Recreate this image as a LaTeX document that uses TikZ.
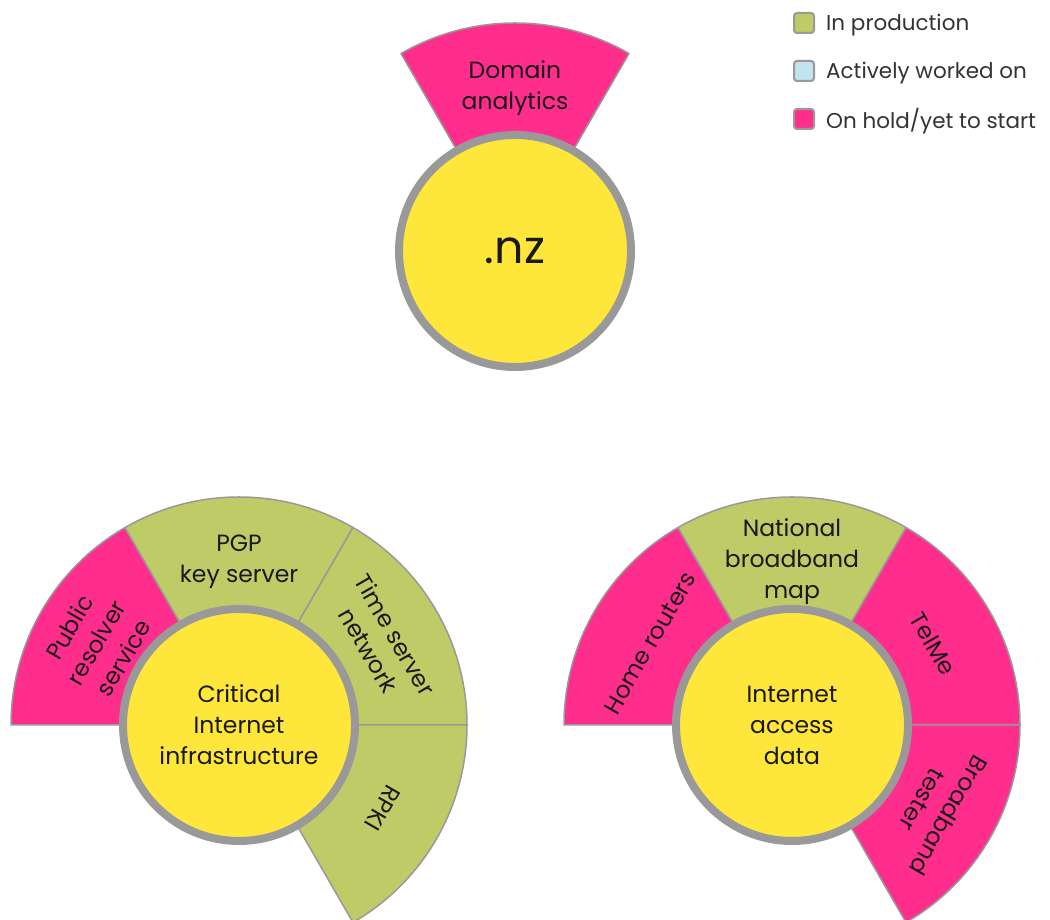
\documentclass[tikz,border=0pt]{standalone}
\usepackage{fontspec}
\setmainfont{Poppins}
\usetikzlibrary{positioning}
\definecolor{prodgreen}{HTML}{BFCB66}
\definecolor{activeblue}{HTML}{C2E4EE}
\definecolor{holdpink}{HTML}{FF2E8C}
\definecolor{hubyellow}{HTML}{FFE63B}
\definecolor{rimgray}{HTML}{999999}
\tikzset{
  sector/.style={draw=rimgray, line width=1.5pt, line join=round},
  hub/.style={circle, draw=rimgray, line width=8pt, fill=hubyellow, minimum size=232pt,
    inner sep=0pt, align=center, text=black!90, font=\fontsize{23.5}{31}\selectfont},
  seclabel/.style={align=center, text=black!90, font=\fontsize{23.5}{31}\selectfont},
  keybox/.style={draw=rimgray, line width=2pt, rounded corners=3pt, minimum size=20pt, inner sep=0pt},
  keytext/.style={anchor=west, inner sep=0pt, yshift=-2pt, text=black!80, font=\fontsize{21.5}{24}\selectfont}
}
\begin{document}
\begin{tikzpicture}
\useasboundingbox (0pt,0pt) rectangle (1050pt,920pt);
\pgfmathsetlengthmacro{\rin}{116pt}
\pgfmathsetlengthmacro{\rout}{228pt}
% top: .nz
\begin{scope}[shift={(515pt,669pt)}]
\draw[sector, fill=holdpink] (60:\rin) -- (60:\rout) arc[start angle=60, end angle=120, radius=\rout] -- (120:\rin) arc[start angle=120, end angle=60, radius=\rin] -- cycle;
\node[seclabel] (domain) at (90:163pt) {Domain\\analytics};
\node[hub, font=\fontsize{46}{50}\selectfont] (nz) at (0,0) {.nz};
\end{scope}
% left: critical internet infrastructure
\begin{scope}[shift={(239pt,195pt)}]
\foreach \a/\b/\c in {120/180/holdpink, 60/120/prodgreen, 0/60/prodgreen, -60/0/prodgreen}
  \draw[sector, fill=\c] (\a:\rin) -- (\a:\rout) arc[start angle=\a, end angle=\b, radius=\rout] -- (\b:\rin) arc[start angle=\b, end angle=\a, radius=\rin] -- cycle;
\node[seclabel, rotate=60] (pubres) at (150:165pt) {Public\\resolver\\service};
\node[seclabel] (pgp) at (90:163pt) {PGP\\key server};
\node[seclabel, rotate=-60] (timesrv) at (30:165pt) {Time server\\network};
\node[seclabel, rotate=-120] (rpki) at (-30:166pt) {RPKI};
\node[hub] (cii) at (0,0) {Critical\\Internet\\infrastructure};
\end{scope}
% right: internet access data
\begin{scope}[shift={(792pt,195pt)}]
\foreach \a/\b/\c in {120/180/holdpink, 60/120/prodgreen, 0/60/holdpink, -60/0/holdpink}
  \draw[sector, fill=\c] (\a:\rin) -- (\a:\rout) arc[start angle=\a, end angle=\b, radius=\rout] -- (\b:\rin) arc[start angle=\b, end angle=\a, radius=\rin] -- cycle;
\node[seclabel, rotate=60] (homert) at (150:164pt) {Home routers};
\node[seclabel] (nbmap) at (90:163pt) {National\\broadband\\map};
\node[seclabel, rotate=-60] (telme) at (30:163pt) {TelMe};
\node[seclabel, rotate=-120] (bbtest) at (-30:166pt) {Broadband\\tester};
\node[hub] (iad) at (0,0) {Internet\\access\\data};
\end{scope}
% legend
\node[keybox, fill=prodgreen] (keyprod) at (804pt,897pt) {};
\node[keybox, fill=activeblue, below=26pt of keyprod] (keyactive) {};
\node[keybox, fill=holdpink, below=26pt of keyactive] (keyhold) {};
\node[keytext, right=11pt of keyprod] (txtprod) {In production};
\node[keytext, right=11pt of keyactive] (txtactive) {Actively worked on};
\node[keytext, right=11pt of keyhold] (txthold) {On hold/yet to start};
\end{tikzpicture}
\end{document}
